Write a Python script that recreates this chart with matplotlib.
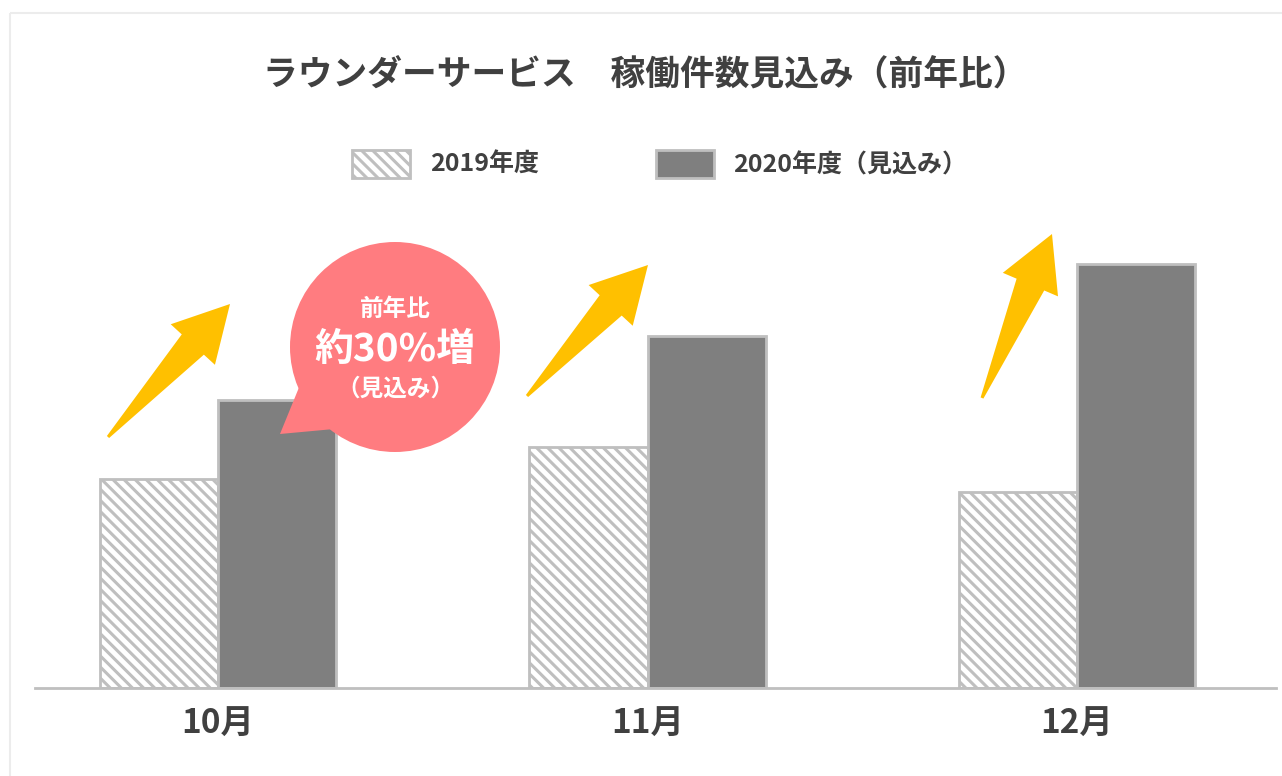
import matplotlib
matplotlib.use("Agg")
import matplotlib.pyplot as plt
from matplotlib.patches import Rectangle, Circle, Polygon
import numpy as np

plt.rcParams['font.family'] = ['Noto Sans CJK JP', 'DejaVu Sans']
plt.rcParams['hatch.color'] = '#BFBFBF'
plt.rcParams['hatch.linewidth'] = 2.2

# data (arbitrary units)
months = ['10月', '11月', '12月']
fy2019 = [209, 241, 196]
fy2020 = [288, 352, 424]
series_names = ['2019年度', '2020年度（見込み）']
title = 'ラウンダーサービス\u3000稼働件数見込み（前年比）'
bubble_lines = ['前年比', '約30%増', '（見込み）']

W, H = 1282, 776
fig = plt.figure(figsize=(W / 100, H / 100), dpi=100)

# main bar axes
ax = fig.add_axes([35 / W, 1 - 688 / H, (1276 - 35) / W, (688 - 200) / H])
x = np.arange(len(months))
bw = 0.275
ax.bar(x - bw / 2, fy2019, bw, facecolor='white', edgecolor='#BFBFBF',
       hatch='\\\\\\', linewidth=2, zorder=2)
ax.bar(x + bw / 2, fy2020, bw, facecolor='#7F7F7F', edgecolor='#BFBFBF',
       linewidth=2, zorder=2)
ax.set_xlim(-0.426, 2.463)
ax.set_ylim(0, 488)
ax.set_xticks(x)
ax.set_xticklabels(months, fontsize=24, fontweight='bold', color='#404040')
ax.tick_params(axis='x', length=0, pad=14)
ax.set_yticks([])
for s in ['top', 'right', 'left']:
    ax.spines[s].set_visible(False)
ax.spines['bottom'].set_color('#BFBFBF')
ax.spines['bottom'].set_linewidth(2)

# overlay in pixel coordinates for title, legend and callouts
ov = fig.add_axes([0, 0, 1, 1], zorder=5)
ov.set_xlim(0, W)
ov.set_ylim(H, 0)
ov.axis('off')
ov.patch.set_alpha(0)

ov.add_patch(Rectangle((10, 13), W, H, fill=False, edgecolor='#ECECEC', lw=1.5))

ov.text(645, 75, title, ha='center', va='center', fontsize=25,
        fontweight='bold', color='#404040')

# legend
ov.add_patch(Rectangle((352, 150), 58, 28, facecolor='white', edgecolor='#BFBFBF',
                       hatch='\\\\\\', lw=2))
ov.text(430, 165, series_names[0], ha='left', va='center', fontsize=18,
        fontweight='bold', color='#404040')
ov.add_patch(Rectangle((656, 150), 58, 28, facecolor='#7F7F7F', edgecolor='#BFBFBF', lw=2))
ov.text(733, 165, series_names[1], ha='left', va='center', fontsize=18,
        fontweight='bold', color='#404040')


def arrow(tail, tip, body=15, head=30, head_len=55):
    tail = np.array(tail, float)
    tip = np.array(tip, float)
    d = tip - tail
    d /= np.hypot(*d)
    n = np.array([-d[1], d[0]])
    base = tip - d * head_len
    pts = [tail + n * 1.5, base + n * body, base + n * head, tip,
           base - n * head, base - n * body, tail - n * 1.5]
    ov.add_patch(Polygon(pts, closed=True, facecolor='#FFC000', edgecolor='none'))


arrow((108, 437), (230, 304))
arrow((527, 396), (648, 265))
arrow((982, 398), (1052, 234))

# speech bubble
pink = '#FF7C80'
ov.add_patch(Polygon([(280, 434), (300, 385), (345, 428)], closed=True,
                     facecolor=pink, edgecolor='none'))
ov.add_patch(Circle((395, 347), 105, facecolor=pink, edgecolor='none'))
ov.text(395, 309, bubble_lines[0], ha='center', va='center', fontsize=17,
        fontweight='bold', color='white')
ov.text(395, 350, bubble_lines[1], ha='center', va='center', fontsize=28,
        fontweight='bold', color='white')
ov.text(395, 389, bubble_lines[2], ha='center', va='center', fontsize=17,
        fontweight='bold', color='white')

fig.savefig('out.png', dpi=100, facecolor='white')
